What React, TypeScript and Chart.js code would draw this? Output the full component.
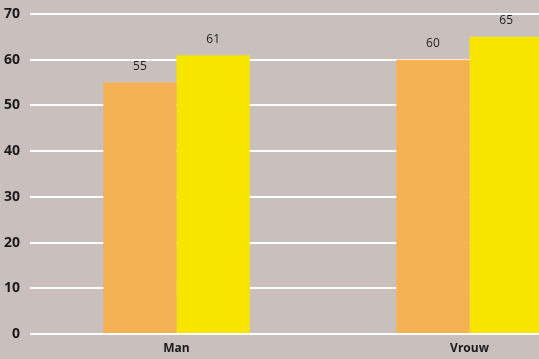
import React, { useEffect, useRef } from "react";
import { Chart, registerables } from "chart.js";

Chart.register(...registerables);

const categories = ["Man", "Vrouw"];
const seriesA = [55, 60];
const seriesB = [61, 65];
const yTicks = [0, 10, 20, 30, 40, 50, 60, 70];

const valueLabels = {
  id: "valueLabels",
  afterDatasetsDraw(chart: any) {
    const ctx = chart.ctx;
    ctx.save();
    ctx.font = "12px 'Open Sans', sans-serif";
    ctx.fillStyle = "#222222";
    ctx.textAlign = "center";
    ctx.textBaseline = "middle";
    chart.data.datasets.forEach((ds: any, i: number) => {
      const meta = chart.getDatasetMeta(i);
      meta.data.forEach((bar: any, j: number) => {
        ctx.fillText(String(ds.data[j]), bar.x, bar.y - 16);
      });
    });
    ctx.restore();
  },
};

export default function App() {
  const ref = useRef<HTMLCanvasElement | null>(null);
  useEffect(() => {
    if (!ref.current) return;
    const chart = new Chart(ref.current, {
      type: "bar",
      data: {
        labels: categories,
        datasets: [
          { data: seriesA, backgroundColor: "#f5b255", borderWidth: 0 },
          { data: seriesB, backgroundColor: "#f7e500", borderWidth: 0 },
        ],
      },
      options: {
        responsive: false,
        animation: false,
        devicePixelRatio: 1,
        layout: { padding: { top: 14, bottom: 0, left: 0, right: 0 } },
        plugins: { legend: { display: false }, tooltip: { enabled: false } },
        datasets: { bar: { barPercentage: 1, categoryPercentage: 0.5 } },
        scales: {
          x: {
            afterFit(scale: any) {
              scale.height = 25;
              scale.paddingLeft = 0;
              scale.paddingRight = 0;
            },
            grid: { display: false, drawTicks: false },
            border: { display: false },
            ticks: {
              padding: 7,
              color: "#1a1a1a",
              font: { family: "'Open Sans', sans-serif", size: 12, weight: "bold" },
            },
          },
          y: {
            min: 0,
            max: 70,
            afterFit(scale: any) {
              scale.width = 30;
              scale.paddingTop = 0;
              scale.paddingBottom = 0;
            },
            afterBuildTicks(scale: any) {
              scale.ticks = yTicks.map((v) => ({ value: v }));
            },
            grid: { color: "#ffffff", lineWidth: 2, drawTicks: false },
            border: { display: false },
            ticks: {
              padding: 10,
              color: "#1a1a1a",
              font: { family: "'Open Sans', sans-serif", size: 14, weight: "bold" },
            },
          },
        },
      },
      plugins: [valueLabels],
    } as any);
    return () => chart.destroy();
  }, []);
  return (
    <div
      style={{
        position: "fixed",
        left: 0,
        top: 0,
        width: 539,
        height: 359,
        overflow: "hidden",
        background: "#c9c0be",
      }}
    >
      <canvas ref={ref} width={616} height={359} style={{ display: "block" }} />
    </div>
  );
}
